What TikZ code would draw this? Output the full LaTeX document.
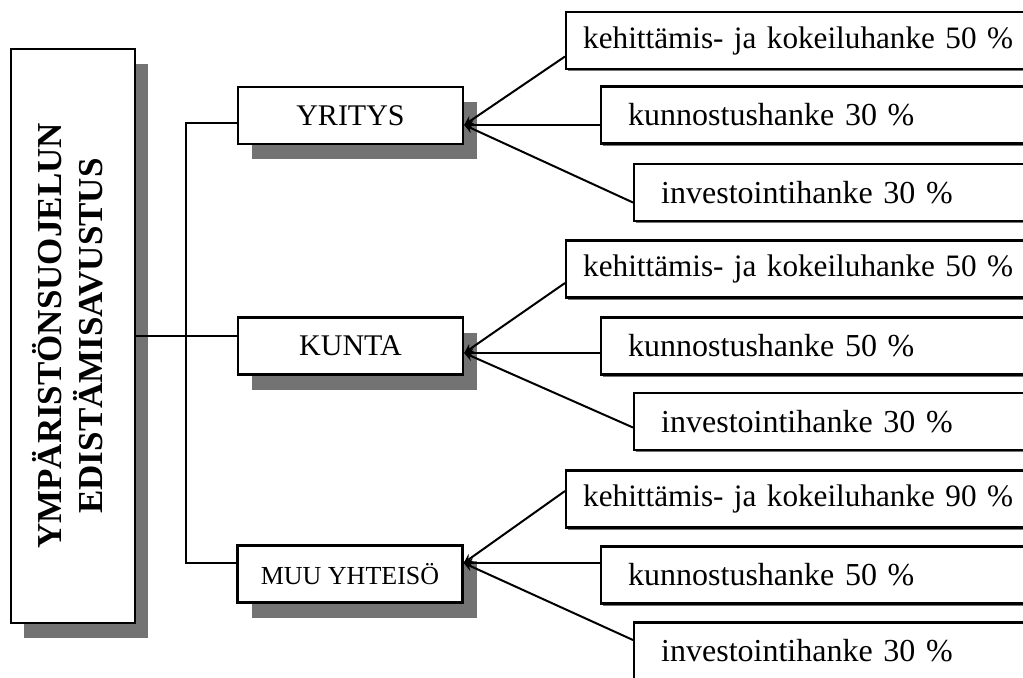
\documentclass[tikz,border=0pt]{standalone}
\usepackage{fontspec}
\setmainfont{Liberation Serif}
\usepackage{graphicx}
\usetikzlibrary{shadows}
\tikzset{
    mainbox/.style = {rectangle, draw=black, line width=1.2pt, fill=white, minimum width=62pt, minimum height=287pt, inner sep=0pt, text centered, font=\fontsize{17.5}{18.75}\selectfont\bfseries, general shadow={fill=black!55, shadow xshift=6.5pt, shadow yshift=-7.5pt}},
    party/.style = {rectangle, draw=black, line width=1.2pt, fill=white, minimum width=112.5pt, minimum height=28.5pt, text centered, font=\fontsize{15}{18}\selectfont, general shadow={fill=black!55, shadow xshift=7pt, shadow yshift=-7.5pt}},
    project/.style = {rectangle, draw=black, line width=1.2pt, fill=white, minimum height=28.5pt, anchor=west, align=left, inner xsep=13.5pt, text width=260pt, font=\fontsize{16}{19}\selectfont, general shadow={fill=black!55, shadow xshift=1pt, shadow yshift=-1.2pt}},
    devbox/.style = {project, inner xsep=8.5pt, font=\fontsize{15.6}{19}\selectfont},
    repairbox/.style = {project},
    investbox/.style = {project},
    arrow/.style = {line width=1pt,->,>=stealth},
    link/.style = {line width=1pt}
}
\begin{document}
\begin{tikzpicture}[x=0.5pt, y=-0.5pt]
\useasboundingbox (0,0) rectangle (1023,677);
% title box
\node (main) [mainbox] at (73,336) {\rotatebox{90}{\begin{tabular}{@{}c@{}}YMPÄRISTÖNSUOJELUN\\EDISTÄMISAVUSTUS\end{tabular}}};
% recipients
\node (yritys) [party] at (350.5,115.5) {YRITYS};
\node (kunta) [party] at (350.5,346) {KUNTA};
\node (muu) [party, font=\fontsize{13}{16}\selectfont] at (350,574) {MUU YHTEISÖ};
% project types
\node (keh1) [devbox] at (565,40.5) {kehittämis- ja kokeiluhanke 50 \%};
\node (kun1) [repairbox] at (600,115) {kunnostushanke 30 \%};
\node (inv1) [investbox] at (633,192.5) {investointihanke 30 \%};
\node (keh2) [devbox] at (565,269) {kehittämis- ja kokeiluhanke 50 \%};
\node (kun2) [repairbox] at (600,346) {kunnostushanke 50 \%};
\node (inv2) [investbox] at (633,421.5) {investointihanke 30 \%};
\node (keh3) [devbox] at (565,499) {kehittämis- ja kokeiluhanke 90 \%};
\node (kun3) [repairbox] at (600,575) {kunnostushanke 50 \%};
\node (inv3) [investbox] at (633,651) {investointihanke 30 \%};

% connectors
\coordinate (bus) at (186,336);
\coordinate (h1) at ([yshift=-4.75pt]yritys.east);
\coordinate (h2) at ([yshift=-3.5pt]kunta.east);
\coordinate (h3) at ([yshift=5.5pt]muu.east);

\draw [link] (main.east) -- (kunta.west |- main.east);
\draw [link] ([yshift=-3.75pt]yritys.west) -| (bus) |- ([yshift=5.5pt]muu.west);

\draw [arrow] ([yshift=-8pt]keh1.west) -- (h1);
\draw [arrow] (kun1.west |- h1) -- (h1);
\draw [arrow] ([yshift=-5pt]inv1.west) -- (h1);
\draw [arrow] ([yshift=-7pt]keh2.west) -- (h2);
\draw [arrow] (kun2.west |- h2) -- (h2);
\draw [arrow] ([yshift=-3pt]inv2.west) -- (h2);
\draw [arrow] ([yshift=4pt]keh3.west) -- (h3);
\draw [arrow] (kun3.west |- h3) -- (h3);
\draw [arrow] ([yshift=5.5pt]inv3.west) -- (h3);
\end{tikzpicture}
\end{document}
